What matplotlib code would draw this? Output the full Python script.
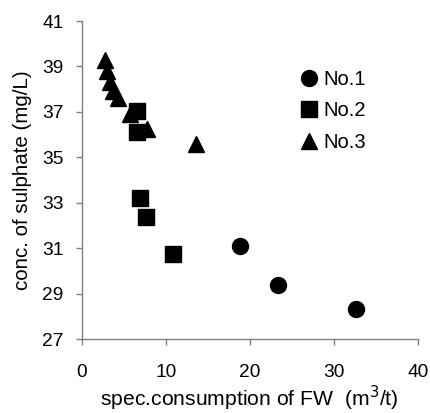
import numpy as np
import matplotlib
matplotlib.use('Agg')
import matplotlib.pyplot as plt

plt.rcParams['font.family'] = 'Liberation Sans'
plt.rcParams['font.size'] = 14.0

# No.1
x1 = [18.8, 23.4, 32.7]
y1 = [31.1, 29.37, 28.34]
# No.2
x2 = [6.6, 6.6, 6.9, 7.6, 10.8]
y2 = [37.04, 36.12, 33.22, 32.38, 30.75]
# No.3
x3 = [2.8, 3.0, 3.3, 3.7, 4.3, 5.7, 7.7, 13.65]
y3 = [39.3, 38.8, 38.3, 37.9, 37.6, 36.93, 36.27, 35.6]

xticks = [0, 10, 20, 30, 40]
yticks = [27, 29, 31, 33, 35, 37, 39, 41]

fig = plt.figure(figsize=(4.31, 4.13), dpi=100)
ax = fig.add_axes([0.190, 0.179, 0.779, 0.770])

ms = 11.5
ax.plot(x1, y1, 'o', color='black', markersize=ms, label='No.1')
ax.plot(x2, y2, 's', color='black', markersize=ms * 0.95, label='No.2')
ax.plot(x3, y3, '^', color='black', markersize=ms, label='No.3')

ax.set_xlim(0, 40)
ax.set_ylim(27, 41)
ax.set_xticks(xticks)
ax.set_yticks(yticks)

for s in ['top', 'right']:
    ax.spines[s].set_visible(False)
for s in ['left', 'bottom']:
    ax.spines[s].set_color('#808080')
    ax.spines[s].set_linewidth(1.0)
ax.tick_params(direction='out', length=4.3, width=1.0, color='#808080',
               labelsize=13.8)
ax.tick_params(axis='x', pad=14)
ax.tick_params(axis='y', pad=9)

ax.set_xlabel('spec.consumption of FW  (m$^3$/t)', fontsize=15.2, labelpad=2)
ax.set_ylabel('conc. of sulphate (mg/L)', fontsize=14.8, labelpad=7)

leg = ax.legend(loc='upper left', bbox_to_anchor=(0.615, 0.872), frameon=False,
                handletextpad=0.15, labelspacing=0.62, handlelength=1.2,
                fontsize=14.5, borderaxespad=0)

fig.savefig('out.png', dpi=100)
